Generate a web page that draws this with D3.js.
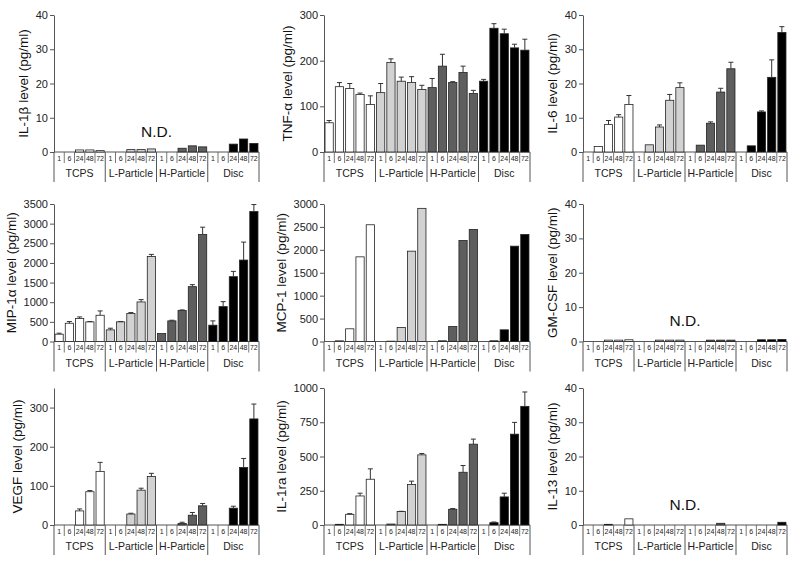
<!DOCTYPE html>
<html>
<head>
<meta charset="utf-8">
<script src="https://cdn.jsdelivr.net/npm/d3@7"></script>
<style>
  html, body { margin: 0; padding: 0; background: #fff; }
  svg { display: block; font-family: "Liberation Sans", Arial, sans-serif; }
</style>
</head>
<body>
<svg id="chart" width="800" height="569"></svg>
<script>
// ---------- data ----------
const groups = ["TCPS", "L-Particle", "H-Particle", "Disc"];
const times = ["1", "6", "24", "48", "72"];
const groupColors = ["#ffffff", "#d2d2d2", "#5e5e5e", "#000000"];

const il1bValues  = [0, 0, 0.6, 0.6, 0.4,   0, 0, 0.7, 0.7, 0.9,   0, 0, 1.1, 1.8, 1.5,   0, 0, 2.3, 3.8, 2.5];
const il1bErrors  = [0, 0, 0, 0, 0,   0, 0, 0, 0, 0,   0, 0, 0, 0, 0,   0, 0, 0, 0, 0];

const tnfaValues  = [64, 143, 139, 126, 104,   130, 196, 155, 152, 137,   141, 188, 152, 174, 128,   155, 271, 259, 228, 223];
const tnfaErrors  = [5, 9, 11, 3, 19,   20, 8, 9, 13, 9,   20, 26, 2, 14, 7,   4, 10, 10, 8, 24];

const il6Values   = [0, 1.6, 8.0, 10.2, 13.9,   0, 2.1, 7.3, 15.1, 18.8,   0, 2.0, 8.4, 17.5, 24.3,   0, 1.8, 11.7, 21.8, 34.9];
const il6Errors   = [0, 0, 1.2, 0.7, 2.6,   0, 0, 0.6, 1.7, 1.4,   0, 0, 0.4, 1.1, 1.9,   0, 0, 0.3, 5.1, 1.7];

const mip1aValues = [186, 465, 584, 499, 668,   296, 500, 711, 1007, 2166,   203, 525, 787, 1396, 2724,   415, 888, 1650, 2073, 3308];
const mip1aErrors = [25, 43, 42, 9, 110,   42, 10, 25, 59, 51,   0, 16, 17, 51, 186,   110, 127, 135, 457, 178];

const mcp1Values  = [0, 15, 277, 1847, 2547,   0, 7, 307, 1971, 2905,   0, 15, 328, 2204, 2445,   0, 15, 255, 2080, 2336];
const mcp1Errors  = [0, 0, 0, 0, 0,   0, 0, 0, 0, 0,   0, 0, 0, 0, 0,   0, 0, 0, 0, 0];

const gmcsfValues = [0, 0, 0.4, 0.4, 0.5,   0, 0, 0.4, 0.4, 0.4,   0, 0, 0.4, 0.4, 0.4,   0, 0, 0.5, 0.5, 0.6];
const gmcsfErrors = [0, 0, 0, 0, 0,   0, 0, 0, 0, 0,   0, 0, 0, 0, 0,   0, 0, 0, 0, 0];

const vegfValues  = [0, 0, 36, 85, 137,   0, 0, 28, 89, 124,   0, 0, 4, 25, 49,   0, 0, 43, 147, 271];
const vegfErrors  = [0, 0, 5, 3, 23,   0, 0, 2, 5, 8,   0, 0, 3, 7, 6,   0, 0, 5, 23, 38];

const il1raValues = [0, 5, 78, 212, 334,   0, 7, 98, 295, 512,   0, 5, 115, 385, 590,   0, 17, 205, 663, 866];
const il1raErrors = [0, 0, 5, 20, 76,   0, 0, 2, 25, 10,   0, 0, 5, 49, 37,   0, 5, 27, 86, 105];

const il13Values  = [0, 0, 0.2, 0, 1.8,   0, 0, 0, 0, 0,   0, 0, 0, 0.5, 0,   0, 0, 0, 0, 0.8];
const il13Errors  = [0, 0, 0, 0, 0,   0, 0, 0, 0, 0,   0, 0, 0, 0, 0,   0, 0, 0, 0, 0];

const ticks40   = [0, 10, 20, 30, 40];
const ticksTnf  = [0, 100, 200, 300];
const ticksMip  = [0, 500, 1000, 1500, 2000, 2500, 3000, 3500];
const ticksMcp  = [0, 500, 1000, 1500, 2000, 2500, 3000];
const ticksVegf = [0, 100, 200, 300];
const ticksIl1ra = [0, 250, 500, 750, 1000];

const panels = [
  { title: "IL-1β level (pg/ml)",  values: il1bValues,  errors: il1bErrors,  max: 40,   ticks: ticks40,   nd: true },
  { title: "TNF-α level (pg/ml)",  values: tnfaValues,  errors: tnfaErrors,  max: 300,  ticks: ticksTnf,  nd: false },
  { title: "IL-6 level (pg/ml)",   values: il6Values,   errors: il6Errors,   max: 40,   ticks: ticks40,   nd: false },
  { title: "MIP-1α level (pg/ml)", values: mip1aValues, errors: mip1aErrors, max: 3500, ticks: ticksMip,  nd: false },
  { title: "MCP-1 level (pg/ml)",  values: mcp1Values,  errors: mcp1Errors,  max: 3000, ticks: ticksMcp,  nd: false },
  { title: "GM-CSF level (pg/ml)", values: gmcsfValues, errors: gmcsfErrors, max: 40,   ticks: ticks40,   nd: true },
  { title: "VEGF level (pg/ml)",   values: vegfValues,  errors: vegfErrors,  max: 350,  ticks: ticksVegf, nd: false },
  { title: "IL-1ra level (pg/ml)", values: il1raValues, errors: il1raErrors, max: 1000, ticks: ticksIl1ra, nd: false },
  { title: "IL-13 level (pg/ml)",  values: il13Values,  errors: il13Errors,  max: 40,   ticks: ticks40,   nd: true }
];

// ---------- layout ----------
const colLeft  = [54, 324, 583];
const colRight = [259, 530, 787];
const rowTop   = [15, 204, 388];
const rowZero  = [152, 341.5, 525];

const svg = d3.select("#chart");
const axisColor = "#555";
const cells = [];
groups.forEach((g, gi) => times.forEach(t => cells.push({ g, gi, t, id: g + "|" + t })));

panels.forEach((p, i) => {
  const c = i % 3, r = Math.floor(i / 3);
  const x0 = colLeft[c], x1 = colRight[c], yTop = rowTop[r], yZero = rowZero[r];

  const x = d3.scaleBand().domain(cells.map(d => d.id)).range([x0, x1]).paddingInner(0).paddingOuter(0);
  const xg = d3.scaleBand().domain(groups).range([x0, x1]).paddingInner(0).paddingOuter(0);
  const y = d3.scaleLinear().domain([0, p.max]).range([yZero, yTop]);
  const bw = x.bandwidth();

  const gp = svg.append("g");

  // y axis
  const yAxis = gp.append("g")
    .attr("transform", `translate(${x0},0)`)
    .call(d3.axisLeft(y).tickValues(p.ticks).tickFormat(d3.format("d")).tickSize(4).tickPadding(2).tickSizeOuter(0));
  yAxis.select(".domain").attr("stroke", axisColor).attr("stroke-width", 1);
  yAxis.selectAll(".tick line").attr("stroke", axisColor);
  yAxis.selectAll(".tick text")
    .attr("fill", "#222")
    .style("font-size", "11px")
    .style("font-family", "'Liberation Sans', Arial, sans-serif");

  // baseline
  gp.append("line")
    .attr("x1", x0).attr("x2", x1)
    .attr("y1", yZero).attr("y2", yZero)
    .attr("stroke", axisColor).attr("stroke-width", 1);

  // cell dividers
  cells.forEach((d, k) => {
    if (k % 5 !== 0) {
      gp.append("line")
        .attr("x1", x(d.id)).attr("x2", x(d.id))
        .attr("y1", yZero).attr("y2", yZero + 11)
        .attr("stroke", axisColor).attr("stroke-width", 0.8);
    }
  });
  // group separators
  groups.forEach(g => {
    gp.append("line")
      .attr("x1", xg(g)).attr("x2", xg(g))
      .attr("y1", yZero).attr("y2", yZero + 30)
      .attr("stroke", axisColor).attr("stroke-width", 1);
  });
  gp.append("line")
    .attr("x1", x1).attr("x2", x1)
    .attr("y1", yZero).attr("y2", yZero + 30)
    .attr("stroke", axisColor).attr("stroke-width", 1);

  // cell labels
  gp.selectAll("text.cell").data(cells).enter().append("text")
    .attr("x", d => x(d.id) + bw / 2)
    .attr("y", yZero + 8.5)
    .attr("text-anchor", "middle")
    .style("font-size", "7px")
    .attr("fill", "#222")
    .text(d => d.t);

  // group labels
  gp.selectAll("text.grp").data(groups).enter().append("text")
    .attr("x", d => xg(d) + xg.bandwidth() / 2)
    .attr("y", yZero + 25)
    .attr("text-anchor", "middle")
    .style("font-size", "10.5px")
    .attr("fill", "#222")
    .text(d => d);

  // bars
  const data = cells.map((d, k) => ({ ...d, v: p.values[k], e: p.errors[k] }));
  gp.selectAll("rect.bar").data(data.filter(d => d.v > 0)).enter().append("rect")
    .attr("x", d => x(d.id) + bw * 0.1)
    .attr("width", bw * 0.8)
    .attr("y", d => y(d.v))
    .attr("height", d => yZero - y(d.v))
    .attr("fill", d => groupColors[d.gi])
    .attr("stroke", "#222")
    .attr("stroke-width", 0.8);

  // error bars (upper half only)
  const eb = data.filter(d => d.v > 0 && d.e > 0);
  gp.selectAll("line.err").data(eb).enter().append("line")
    .attr("x1", d => x(d.id) + bw / 2).attr("x2", d => x(d.id) + bw / 2)
    .attr("y1", d => y(d.v)).attr("y2", d => y(d.v + d.e))
    .attr("stroke", "#333").attr("stroke-width", 1);
  gp.selectAll("line.cap").data(eb).enter().append("line")
    .attr("x1", d => x(d.id) + bw / 2 - 2.5).attr("x2", d => x(d.id) + bw / 2 + 2.5)
    .attr("y1", d => y(d.v + d.e)).attr("y2", d => y(d.v + d.e))
    .attr("stroke", "#333").attr("stroke-width", 1);

  // y title
  const bb = yAxis.node().getBBox();
  const tx = bb.x + x0 - 11;
  const ty = (yTop + yZero) / 2;
  gp.append("text")
    .attr("transform", `translate(${tx},${ty}) rotate(-90)`)
    .attr("text-anchor", "middle")
    .attr("dominant-baseline", "middle")
    .style("font-size", "13.5px")
    .attr("fill", "#111")
    .text(p.title);

  // N.D.
  if (p.nd) {
    gp.append("text")
      .attr("x", xg("H-Particle"))
      .attr("y", y(4.5))
      .attr("text-anchor", "middle")
      .style("font-size", "15.5px")
      .attr("fill", "#111")
      .text("N.D.");
  }
});
</script>
</body>
</html>
